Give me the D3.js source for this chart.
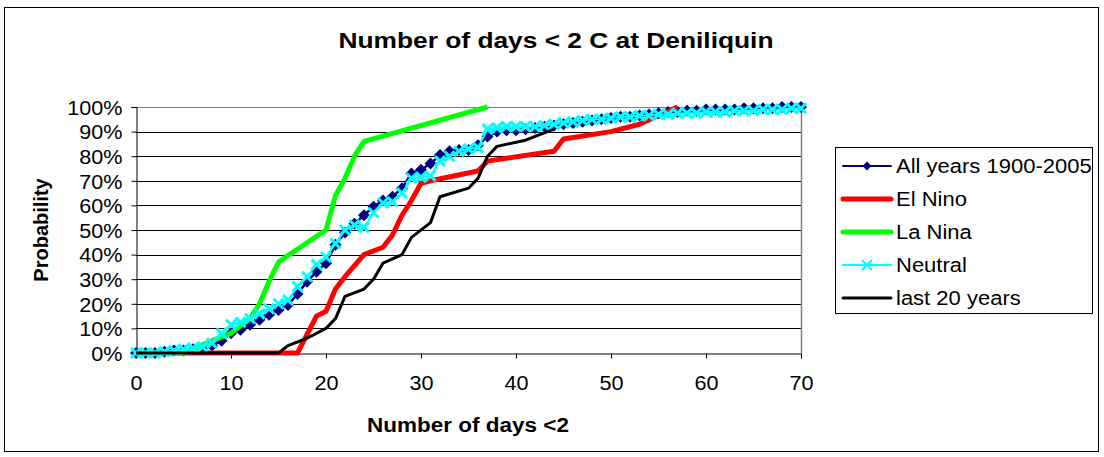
<!DOCTYPE html>
<html>
<head>
<meta charset="utf-8">
<script src="https://cdn.jsdelivr.net/npm/d3@7"></script>
<style>
  body { margin: 0; background: #fff; }
  text { font-family: Arial, "Liberation Sans", sans-serif; fill: #000; }
</style>
</head>
<body>
<svg id="chart" width="1104" height="457"></svg>
<script>
// Cumulative probability (%) per number of days, day = array index 0..70.
var allYears = [0, 0, 0, 0.5, 1, 1, 1.5, 2, 3, 5,
  8, 9.5, 11.5, 13.5, 15.5, 17.5, 19.5, 24, 29, 33,
  36.5, 44, 49, 52.5, 56, 59.5, 62, 63.5, 67, 73,
  74.5, 77, 80.5, 82, 82.5, 82.5, 84.5, 88, 90, 90.5,
  90.5, 91, 91.5, 92, 92.5, 93, 93.5, 94, 94.5, 95,
  95.5, 96, 96, 96.5, 97, 97.5, 98, 98, 98.5, 98.5,
  99, 99, 99, 99, 99.5, 99.5, 99.5, 99.5, 100, 100, 100];

var neutral = [0, 0, 0, 0.5, 1, 1.5, 2, 2.5, 4, 8,
  11.5, 12.5, 14, 16, 18, 20, 21.5, 27, 31, 36,
  39, 44.5, 50, 52, 51, 57, 61, 61.5, 65, 71,
  71.5, 72, 78, 80, 82, 83, 83.5, 91, 91.5, 92,
  92, 92, 92, 92.5, 93, 93.5, 94, 94.5, 95, 95,
  95.5, 96, 96, 96.5, 96.5, 97, 97, 97.5, 97.5, 97.5,
  98, 98, 98, 98.5, 98.5, 98.5, 99, 99, 99, 99.5, 99.5];

// [days, probability %]
var elNino = [[0, 0], [17, 0], [19, 15], [20, 17], [21, 26], [22, 31], [24, 40],
  [26, 43], [27, 48], [28, 56], [29, 62], [30, 69], [31, 70], [36, 74], [37, 78],
  [44, 82], [45, 87], [50, 90], [53, 93], [57, 100]];

var laNina = [[0, 0], [5, 0], [8, 5], [10, 8], [12, 14], [13, 20], [14, 29], [15, 37],
  [20, 50], [21, 64], [22, 71], [23, 80], [24, 86], [37, 100]];

var last20 = [[0, 0], [15, 0], [16, 3], [18, 6], [20, 10], [21, 14], [22, 23], [24, 26],
  [25, 30], [26, 36.5], [28, 40], [29, 47], [31, 53], [32, 63.5], [35, 67], [36, 71],
  [37, 80], [38, 84], [41, 86.5], [44, 91]];

var xTicks = [0, 10, 20, 30, 40, 50, 60, 70];
var yTicks = [0, 10, 20, 30, 40, 50, 60, 70, 80, 90, 100];
var legendNames = ["All years 1900-2005", "El Nino", "La Nina", "Neutral", "last 20 years"];

var svg = d3.select("#chart");
var plot = { left: 136, right: 801, top: 107, bottom: 353 };

var x = d3.scaleLinear().domain([0, 70]).range([plot.left, plot.right]);
var y = d3.scaleLinear().domain([0, 100]).range([plot.bottom, plot.top]);

// The original chart text is a little wider than the font, stretch it a bit.
var widen = function(sel, k) {
  sel.each(function() {
    var w = this.getComputedTextLength();
    d3.select(this).attr("textLength", w * k).attr("lengthAdjust", "spacingAndGlyphs");
  });
};

// Outer chart border
svg.append("rect")
  .attr("x", 4.5).attr("y", 7.5).attr("width", 1094).attr("height", 444)
  .attr("fill", "#fff").attr("stroke", "#000").attr("stroke-width", 1);

// Gridlines
svg.append("g").selectAll("line")
  .data(yTicks.slice(1))
  .enter().append("line")
  .attr("x1", plot.left).attr("x2", plot.right)
  .attr("y1", function(d) { return Math.round(y(d)) + 0.5; })
  .attr("y2", function(d) { return Math.round(y(d)) + 0.5; })
  .attr("stroke", function(d) { return d === 100 ? "#808080" : "#000"; })
  .attr("stroke-width", 1);

// Right plot border
svg.append("line")
  .attr("x1", plot.right + 0.5).attr("x2", plot.right + 0.5)
  .attr("y1", plot.top).attr("y2", plot.bottom)
  .attr("stroke", "#808080").attr("stroke-width", 1.5);

// Axes
var xAxis = d3.axisBottom(x).tickValues(xTicks).tickSize(5).tickPadding(17);
var yAxis = d3.axisLeft(y).tickValues(yTicks).tickSize(5).tickPadding(9)
  .tickFormat(function(d) { return d + "%"; });

var gx = svg.append("g").attr("transform", "translate(0," + (plot.bottom + 0.5) + ")").call(xAxis);
var gy = svg.append("g").attr("transform", "translate(" + (plot.left + 0.5) + ",0)").call(yAxis);
[gx, gy].forEach(function(g) {
  g.selectAll("path, line").attr("stroke", "#000");
  g.selectAll("text").style("font-size", "20px").style("font-family", "Arial, 'Liberation Sans', sans-serif");
  widen(g.selectAll("text"), 1.08);
});
gy.selectAll("text").attr("dy", "0.36em");

// Titles
svg.append("text")
  .attr("x", 556).attr("y", 48).attr("text-anchor", "middle")
  .style("font-size", "22px").style("font-weight", "bold")
  .attr("textLength", 435).attr("lengthAdjust", "spacingAndGlyphs")
  .text("Number of days < 2 C at Deniliquin");

svg.append("text")
  .attr("x", 468).attr("y", 432).attr("text-anchor", "middle")
  .style("font-size", "20px").style("font-weight", "bold")
  .attr("textLength", 202).attr("lengthAdjust", "spacingAndGlyphs")
  .text("Number of days <2");

svg.append("text")
  .attr("transform", "translate(48,230) rotate(-90)")
  .attr("text-anchor", "middle")
  .style("font-size", "20px").style("font-weight", "bold")
  .text("Probability");

// Line builders
var pairLine = d3.line()
  .x(function(d) { return x(d[0]); })
  .y(function(d) { return y(d[1]); });
var indexLine = d3.line()
  .x(function(d, i) { return x(i); })
  .y(function(d) { return y(d); });

var diamond = "M0,-6L6,0L0,6L-6,0Z";
var cross = "M-5,-5L5,5M-5,5L5,-5";

// All years: navy line with diamond markers
svg.append("path").datum(allYears)
  .attr("d", indexLine).attr("fill", "none")
  .attr("stroke", "#000080").attr("stroke-width", 2.5);
svg.append("g").selectAll("path")
  .data(allYears)
  .enter().append("path")
  .attr("d", diamond)
  .attr("transform", function(d, i) { return "translate(" + x(i) + "," + y(d) + ")"; })
  .attr("fill", "#000080");

// El Nino and La Nina: thick plain lines
svg.append("path").datum(elNino)
  .attr("d", pairLine).attr("fill", "none")
  .attr("stroke", "#ff0000").attr("stroke-width", 5).attr("stroke-linejoin", "round");
svg.append("path").datum(laNina)
  .attr("d", pairLine).attr("fill", "none")
  .attr("stroke", "#00ff00").attr("stroke-width", 5).attr("stroke-linejoin", "round");

// Neutral: cyan line with x markers
svg.append("path").datum(neutral)
  .attr("d", indexLine).attr("fill", "none")
  .attr("stroke", "#00ffff").attr("stroke-width", 2);
svg.append("g").selectAll("path")
  .data(neutral)
  .enter().append("path")
  .attr("d", cross)
  .attr("transform", function(d, i) { return "translate(" + x(i) + "," + y(d) + ")"; })
  .attr("stroke", "#00ffff").attr("stroke-width", 3).attr("fill", "none");

// Last 20 years: black line
svg.append("path").datum(last20)
  .attr("d", pairLine).attr("fill", "none")
  .attr("stroke", "#000").attr("stroke-width", 3).attr("stroke-linejoin", "round");

// Legend
var legend = svg.append("g");
legend.append("rect")
  .attr("x", 835.5).attr("y", 147.5).attr("width", 257).attr("height", 166)
  .attr("fill", "#fff").attr("stroke", "#000").attr("stroke-width", 1);

var legendStyles = [
  { color: "#000080", width: 2, marker: "M0,-4.5L4.5,0L0,4.5L-4.5,0Z" },
  { color: "#ff0000", width: 5 },
  { color: "#00ff00", width: 5 },
  { color: "#00ffff", width: 2, marker: "M-5,-5L5,5M-5,5L5,-5" },
  { color: "#000", width: 3 }
];

legendNames.forEach(function(name, i) {
  var s = legendStyles[i];
  var ly = 166 + i * 33;
  legend.append("line")
    .attr("x1", 843).attr("x2", 891).attr("y1", ly).attr("y2", ly)
    .attr("stroke", s.color).attr("stroke-width", s.width).attr("stroke-linecap", "round");
  if (i === 0) {
    legend.append("path").attr("d", s.marker)
      .attr("transform", "translate(867," + ly + ")").attr("fill", s.color);
  } else if (i === 3) {
    legend.append("path").attr("d", s.marker)
      .attr("transform", "translate(867," + ly + ")")
      .attr("stroke", s.color).attr("stroke-width", 2).attr("fill", "none");
  }
  var t = legend.append("text")
    .attr("x", 896).attr("y", ly).attr("dy", "0.36em")
    .style("font-size", "20px")
    .text(name);
  widen(t, 1.1);
});
</script>
</body>
</html>
